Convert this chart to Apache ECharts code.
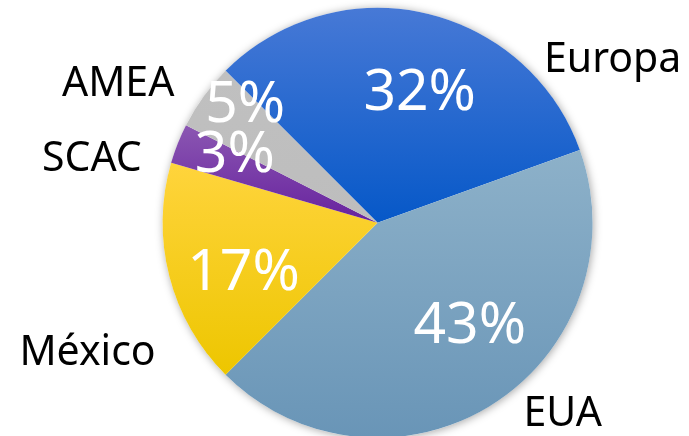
<!DOCTYPE html>
<html>
<head>
<meta charset="utf-8">
<script src="https://cdn.jsdelivr.net/npm/echarts@6/dist/echarts.min.js"></script>
<style>
html,body{margin:0;padding:0;background:#fff;}
#chart{width:689px;height:436px;}
</style>
</head>
<body>
<div id="chart"></div>
<script>
const categories = ['Europa', 'EUA', 'México', 'SCAC', 'AMEA'];
const values = [32, 43, 17, 3, 5];

const gradients = [
  ['#4779d6', '#0658c8'],
  ['#8db1c9', '#6995b7'],
  ['#ffd43c', '#edc600'],
  ['#8b57b2', '#67229e'],
  ['#c0c0c0', '#bdbdbd']
];
// label placement tweaks (pixels) relative to the library's inside label spot
const pctOffsets = [[18, -21], [33, 11], [-27, 23], [-40, -26], [-43, -52]];
const nameOffsets = [[211, -55], [126, 98], [-183, 103], [-183, -23], [-170, -74]];

const center = ['54.8%', '51.1%'];
const radius = 215;

function grad(c) {
  return new echarts.graphic.LinearGradient(0, 0, 0, 1, [
    { offset: 0, color: c[0] },
    { offset: 1, color: c[1] }
  ]);
}

const sliceData = categories.map((name, i) => ({
  name: name,
  value: values[i],
  itemStyle: { color: grad(gradients[i]) },
  label: { offset: pctOffsets[i] }
}));

const nameData = categories.map((name, i) => ({
  name: name,
  value: values[i],
  label: { offset: nameOffsets[i] }
}));

const chart = echarts.init(document.getElementById('chart'), null, { renderer: 'canvas' });
chart.setOption({
  backgroundColor: '#ffffff',
  animation: false,
  series: [
    {
      type: 'pie',
      silent: true,
      center: center,
      radius: radius,
      z: 1,
      data: [{ value: 1, name: 'bg' }],
      itemStyle: { color: '#ffffff', shadowBlur: 8, shadowColor: 'rgba(0,0,0,0.35)', shadowOffsetX: 1, shadowOffsetY: 1 },
      label: { show: false },
      labelLine: { show: false }
    },
    {
      type: 'pie',
      silent: true,
      center: center,
      radius: radius,
      startAngle: 135,
      clockwise: true,
      z: 2,
      avoidLabelOverlap: false,
      minShowLabelAngle: 0,
      labelLayout: { hideOverlap: false },
      itemStyle: { borderWidth: 0 },
      label: {
        show: true,
        position: 'inside',
        color: '#ffffff',
        fontFamily: 'Noto Sans',
        fontSize: 57,
        formatter: p => p.value + '%'
      },
      labelLine: { show: false },
      data: sliceData
    },
    {
      type: 'pie',
      silent: true,
      center: center,
      radius: radius,
      startAngle: 135,
      clockwise: true,
      z: 3,
      avoidLabelOverlap: false,
      minShowLabelAngle: 0,
      labelLayout: { hideOverlap: false },
      itemStyle: { color: 'rgba(0,0,0,0)', borderWidth: 0 },
      label: {
        show: true,
        position: 'inside',
        color: '#000000',
        fontFamily: 'Noto Sans',
        fontSize: 41,
        formatter: p => p.name
      },
      labelLine: { show: false },
      data: nameData
    }
  ]
});
</script>
</body>
</html>
